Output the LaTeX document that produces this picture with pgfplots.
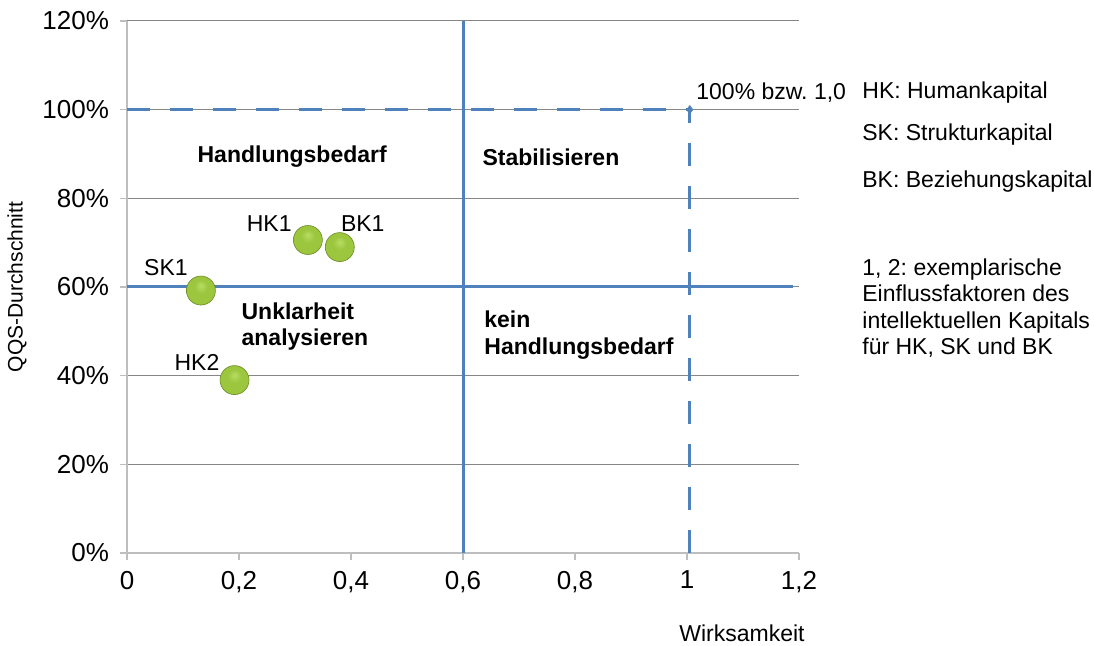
\documentclass[border=0pt]{standalone}
\usepackage{pgfplots}
\pgfplotsset{compat=1.18}
\usepackage{fontspec}
\setmainfont{Liberation Sans}
\frenchspacing
\definecolor{qblue}{RGB}{79,129,189}
\definecolor{gridgray}{RGB}{134,134,134}
\definecolor{axgray}{RGB}{190,190,190}
\definecolor{gA}{RGB}{185,220,100}
\definecolor{gB}{RGB}{155,198,62}
\definecolor{gC}{RGB}{135,180,48}
\definecolor{gD}{RGB}{95,125,30}
\definecolor{gedge}{RGB}{110,140,40}
\pgfdeclareradialshading{greenball}{\pgfpoint{0bp}{9bp}}{color(0bp)=(gA); color(12bp)=(gB); color(26bp)=(gB); color(33bp)=(gC); color(40bp)=(gD); color(50bp)=(gD)}
\pgfdeclareplotmark{gball}{%
  \pgfpathcircle{\pgfpoint{0pt}{0pt}}{\pgfplotmarksize}%
  \pgfshadepath{greenball}{0}%
  \pgfsetlinewidth{0.3pt}\pgfsetstrokecolor{gedge}%
  \pgfusepath{stroke}}
\newcommand{\fa}{\fontsize{11.5}{13.3}\selectfont}
\begin{document}
\begin{tikzpicture}
\path[use as bounding box] (0,0) rectangle (547pt,323pt);
\begin{axis}[
  at={(63.5pt,46.5pt)}, anchor=south west,
  scale only axis, width=336pt, height=266pt,
  xmin=0, xmax=1.2, ymin=0, ymax=1.2,
  axis x line*=bottom, axis y line*=left,
  axis line style={axgray, line width=0.6pt, -},
  xtick={0,0.2,0.4,0.6,0.8,1.0,1.2},
  xticklabels={0,{0,2},{0,4},{0,6},{0,8},1,{1,2}},
  ytick={0,0.2,0.4,0.6,0.8,1.0,1.2},
  yticklabels={0\%,20\%,40\%,60\%,80\%,100\%,120\%},
  tick align=outside, major tick length=3.5pt,
  tick style={axgray, line width=0.6pt},
  ymajorgrids, grid style={gridgray, line width=0.5pt},
  ticklabel style={font=\fontsize{13}{15}\selectfont},
  xticklabel style={yshift=-2pt},
  yticklabel style={xshift=-2pt},
  clip=false,
]
\addplot[qblue, line width=1.5pt] coordinates {(0.6,0) (0.6,1.2)};
\addplot[qblue, line width=1.5pt] coordinates {(0,0.6) (1.19,0.6)};
\addplot[qblue, line width=1.5pt, dash pattern=on 11.5pt off 10pt] coordinates {(0,1) (1.005,1)};
\addplot[qblue, line width=1.5pt, dash pattern=on 11.5pt off 10pt] coordinates {(1.005,0) (1.005,1)};
\addplot[only marks, mark=diamond*, mark size=2pt, qblue] coordinates {(1.005,1)};
\addplot[only marks, mark=gball, mark size=7.25pt] coordinates {
  (0.132,0.592) (0.323,0.706) (0.380,0.690) (0.192,0.390)};
\node[font=\fa] at (axis cs:0.254,0.744) {HK1};
\node[font=\fa] at (axis cs:0.421,0.744) {BK1};
\node[font=\fa] at (axis cs:0.0696,0.643) {SK1};
\node[font=\fa] at (axis cs:0.125,0.429) {HK2};
\node[font=\fa\bfseries] at (axis cs:0.295,0.893) {Handlungsbedarf};
\node[font=\fa\bfseries] at (axis cs:0.757,0.893) {Stabilisieren};
\node[font=\fa\bfseries, anchor=west, align=left, inner sep=0pt] at (axis cs:0.204,0.511) {Unklarheit\\analysieren};
\node[font=\fa\bfseries, anchor=west, align=left, inner sep=0pt] at (axis cs:0.6375,0.491) {kein\\Handlungsbedarf};
\end{axis}
\node[font=\fa, anchor=west, inner sep=0pt] at (348pt,276.5pt) {100\% bzw. 1,0};
\node[font=\fa, anchor=west, inner sep=0pt] at (431pt,276.5pt) {HK: Humankapital};
\node[font=\fa, anchor=west, inner sep=0pt] at (431pt,255.5pt) {SK: Strukturkapital};
\node[font=\fa, anchor=west, inner sep=0pt] at (431pt,232pt) {BK: Beziehungskapital};
\node[font=\fa, anchor=north west, align=left, inner sep=0pt] at (431pt,194pt) {1, 2: exemplarische\\Einflussfaktoren des\\intellektuellen Kapitals\\für HK, SK und BK};
\node[font=\fontsize{10.5}{12}\selectfont, rotate=90] at (8.5pt,179.5pt) {QQS-Durchschnitt};
\node[font=\fa] at (371pt,6.5pt) {Wirksamkeit};
\end{tikzpicture}
\end{document}
